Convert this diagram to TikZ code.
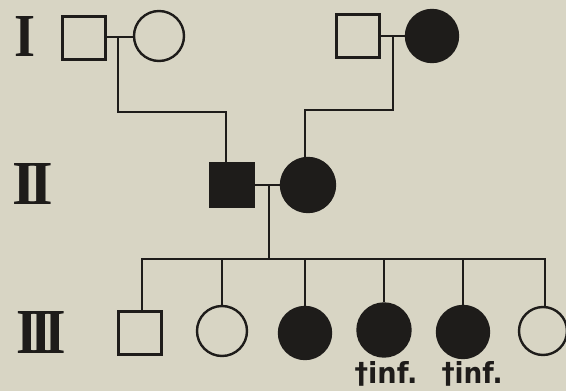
\documentclass[tikz,border=0pt]{standalone}
\usepackage{fontspec}
\usepackage{graphicx}
\newfontfamily\labfont{DejaVu Sans}
\newfontfamily\numfont{Liberation Serif}
\definecolor{paper}{RGB}{216,213,196}
\definecolor{ink}{RGB}{30,28,26}
\tikzset{
  male/.style={rectangle, draw=ink, line width=2.4pt, minimum size=43pt, inner sep=0pt},
  female/.style={circle, draw=ink, line width=2.4pt, inner sep=0pt},
  aff/.style={fill=ink},
  link/.style={draw=ink, line width=2.1pt},
  gen/.style={inner sep=0pt, text=ink},
  note/.style={inner sep=0pt, text=ink}
}
\begin{document}
\begin{tikzpicture}[x=1pt,y=-1pt]
\fill[paper] (0,0) rectangle (566,391);
\useasboundingbox (0,0) rectangle (566,391);
% generation labels
\node[gen] (gI) at (25,36) {\resizebox{21pt}{40pt}{\numfont\bfseries I}};
\node[gen] (gII) at (33,184) {\resizebox{40pt}{41pt}{\numfont\bfseries I\kern-0.12em I}};
\node[gen] (gIII) at (41,332) {\resizebox{49pt}{42pt}{\numfont\bfseries I\kern-0.14em I\kern-0.14em I}};
% generation I
\node[male] (a1) at (84,38) {};
\node[female, minimum size=50pt] (a2) at (159,36) {};
\node[male] (a3) at (358,36) {};
\node[female, aff, minimum size=52pt] (a4) at (432,36) {};
% generation II
\node[male, aff, minimum size=44pt] (b1) at (232,185) {};
\node[female, aff, minimum size=54pt] (b2) at (308,185) {};
% generation III
\node[male] (c1) at (140,333) {};
\node[female, minimum size=50pt] (c2) at (222,331) {};
\node[female, aff, minimum size=52pt] (c3) at (305,333) {};
\node[female, aff, minimum size=53pt] (c4) at (384,330) {};
\node[female, aff, minimum size=52pt] (c5) at (463,332) {};
\node[female, minimum size=48pt] (c6) at (543,331) {};
% notes
\node[note] (n4) at (386,374) {\resizebox{63pt}{22pt}{\labfont\bfseries †inf.}};
\node[note] (n5) at (472,374) {\resizebox{61pt}{22pt}{\labfont\bfseries †inf.}};
% marriage lines
\coordinate (m1) at (118,37);
\coordinate (m2) at (393,36);
\coordinate (m3) at (269,185);
\draw[link] (a1.east |- m1) -- (a2.west |- m1);
\draw[link] (a3.east |- m2) -- (a4.west |- m2);
\draw[link] (b1.east |- m3) -- (b2.west |- m3);
% descent lines
\coordinate (k1) at (118,112);
\coordinate (k2) at (393,110);
\coordinate (d1) at (226,112);
\coordinate (d2) at (305,110);
\draw[link] (m1) -- (k1) -- (d1) -- (d1 |- b1.north);
\draw[link] (m2) -- (k2) -- (d2) -- (d2 |- b2.north);
% sibship
\coordinate (s) at (269,259);
\coordinate (sL) at (142,259);
\coordinate (sR) at (545,259);
\draw[link] (m3) -- (s);
\draw[link] (sL |- c1.north) -- (sL) -- (sR) -- (sR |- c6.north);
\foreach \k in {c2,c3,c4,c5}{
  \draw[link] (\k.north |- s) -- (\k.north);
}
\end{tikzpicture}
\end{document}
